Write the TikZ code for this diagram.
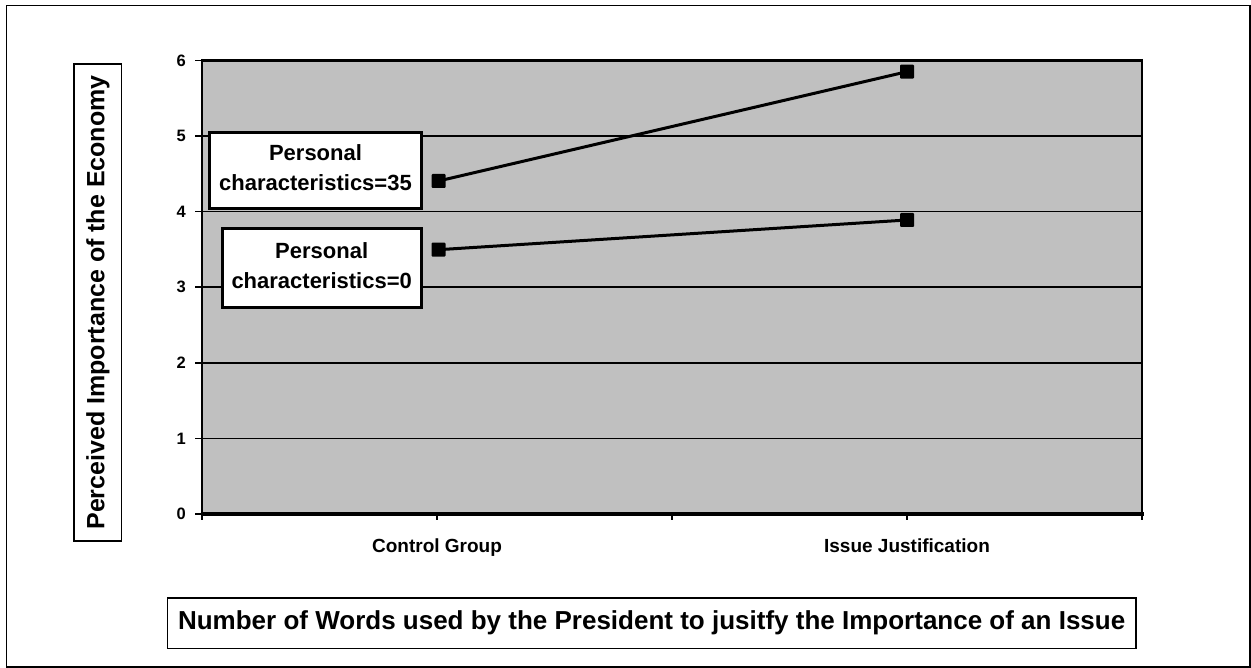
\documentclass[tikz,border=0pt]{standalone}
\usepackage{fontspec}
\setmainfont{Liberation Sans}
\begin{document}
\begin{tikzpicture}[x=1pt,y=-1pt,
  labelbox/.style={draw=black,fill=white,line width=3pt,align=center,inner sep=0pt,
    font=\fontsize{22}{30}\selectfont\bfseries},
  titlebox/.style={draw=black,fill=white,line width=1.6pt,inner sep=0pt,
    font=\fontsize{25}{28}\selectfont\bfseries},
  ticklabel/.style={anchor=east,inner sep=0pt,font=\fontsize{16.5}{18}\selectfont\bfseries},
  catlabel/.style={anchor=base,inner sep=0pt,font=\fontsize{19}{22}\selectfont\bfseries},
  marker/.style={fill=black,minimum size=14pt,inner sep=0pt,rounded corners=1pt},
  series/.style={line width=3pt},
  grid line/.style={line width=1.6pt}]
\useasboundingbox (0,0) rectangle (1251,668);
% frame around the whole chart
\draw[line width=1.2pt] (6.5,5.5) rectangle (1250,667);
% plot area
\fill[fill={rgb,255:red,192;green,192;blue,192}] (202,60.5) rectangle (1142,514);
\foreach \v in {1,...,5} {
  \draw[grid line] (202,{514-75.6*\v}) -- (1142,{514-75.6*\v});
}
\draw[line width=3pt] (202,60.5) -- (1142,60.5);
\draw[line width=2.5pt] (1142,59) -- (1142,520);
\draw[line width=2.5pt] (202,59) -- (202,520);
\draw[line width=3.2pt] (200.5,514) -- (1143.5,514);
% axis ticks and labels
\foreach \v in {0,...,6} {
  \draw[line width=1.6pt] (195,{514-75.6*\v}) -- (202,{514-75.6*\v});
  \node[ticklabel] (t\v) at (186,{514-75.6*\v}) {\v};
}
\foreach \x in {437,672,907,1142} {
  \draw[line width=1.6pt] (\x,514) -- (\x,520);
}
\node[catlabel] (cg) at (437,552.5) {Control Group};
\node[catlabel] (ij) at (907,552.5) {Issue Justification};
% data points
\node[marker] (a1) at (438.5,181) {};
\node[marker] (a2) at (907,71.7) {};
\node[marker] (b1) at (438.5,249.7) {};
\node[marker] (b2) at (907,220) {};
\draw[series] (a1.center) -- (a2.center);
\draw[series] (b1.center) -- (b2.center);
% series labels
\node[labelbox,minimum width=211.3pt,minimum height=76.3pt] (la) at (315.5,170.35)
  {\rule{0pt}{16pt}Personal\\characteristics=35\rule[-4.7pt]{0pt}{4.7pt}};
\node[labelbox,minimum width=199pt,minimum height=78.7pt] (lb) at (321.7,268.15)
  {\rule{0pt}{16pt}Personal\\characteristics=0\rule[-5.7pt]{0pt}{5.7pt}};
% axis titles
\node[titlebox,rotate=90,minimum width=477pt,minimum height=47.5pt] (ytitle) at (97.8,302.5)
  {Perceived Importance of the Economy};
\node[titlebox,minimum width=968.7pt,minimum height=50.6pt,font=\fontsize{26}{30}\selectfont\bfseries] (xtitle) at (651.7,623)
  {Number of Words used by the President to jusitfy the Importance of an Issue};
\end{tikzpicture}
\end{document}
